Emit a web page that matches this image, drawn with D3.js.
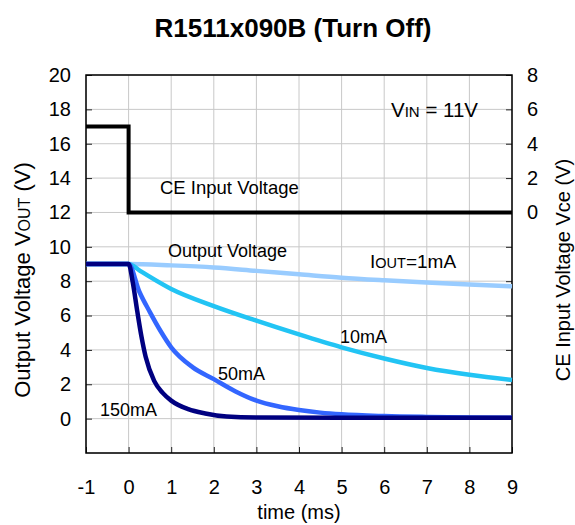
<!DOCTYPE html>
<html><head><meta charset="utf-8">
<script src="https://cdn.jsdelivr.net/npm/d3@7"></script>
<style>body{margin:0;background:#fff}svg text{font-family:"Liberation Sans",Arial,sans-serif}</style>
</head><body>
<svg id="c" width="575" height="525"></svg>
<script>
const xTicks = [-1,0,1,2,3,4,5,6,7,8,9];
const yTicks = [0,2,4,6,8,10,12,14,16,18,20];
const y2Ticks = [0,2,4,6,8];
// CE input voltage (right axis, V)
const ceT = [-1,0,0,9];
const ceV = [5,5,0,0];
// Output voltage series (left axis, V)
const t1 = [-1,0,1,2,3,4,5,6,7,8,9];
const v1 = [9,9,8.92,8.8,8.6,8.4,8.2,8.05,7.92,7.8,7.7];
const t10 = [-1,0,0.27,1,2,3,4,5,6,7,8,9];
const v10 = [9,9,8.6,7.55,6.55,5.7,4.9,4.15,3.5,2.95,2.55,2.25];
const t50 = [-1,0,0.25,0.5,0.75,1,1.5,2,2.5,3,3.5,4,4.5,5,6,7,8,9];
const v50 = [9,9,7.4,6.2,5.1,4.15,3.0,2.3,1.6,1.05,0.72,0.5,0.35,0.25,0.15,0.1,0.07,0.05];
const t150 = [-1,0,0.1,0.2,0.3,0.4,0.6,0.8,1.0,1.4,1.8,2.3,3,5,7,9];
const v150 = [9,9,7.9,6.3,4.8,3.6,2.2,1.5,1.05,0.55,0.3,0.12,0.06,0.05,0.05,0.05];

const svg = d3.select('#c');
const L=86, R=512, T=75, B=453;
const x = d3.scaleLinear().domain([-1,9]).range([L,R]);
const y = d3.scaleLinear().domain([-2,20]).range([B,T]);
const y2 = d3.scaleLinear().domain([-14,8]).range([B,T]);

// grid
const g = svg.append('g');
g.selectAll('.vg').data(xTicks).enter().append('line')
 .attr('x1',d=>x(d)).attr('x2',d=>x(d)).attr('y1',T).attr('y2',B)
 .attr('stroke','#c8c8c8').attr('stroke-width',1);
g.selectAll('.hg').data(yTicks.concat([-2])).enter().append('line')
 .attr('x1',L).attr('x2',R).attr('y1',d=>y(d)).attr('y2',d=>y(d))
 .attr('stroke','#c8c8c8').attr('stroke-width',1);

// axes
const fs = 20;
const hy = d => d<0 ? '-'+Math.abs(d) : String(d);
const ax = svg.append('g').attr('transform',`translate(0,${B})`)
 .call(d3.axisBottom(x).tickValues(xTicks).tickSizeInner(-6).tickSizeOuter(0).tickPadding(27).tickFormat(hy));
const ay = svg.append('g').attr('transform',`translate(${L},0)`)
 .call(d3.axisLeft(y).tickValues(yTicks).tickSizeInner(-6).tickSizeOuter(0).tickPadding(15));
const ay2t = svg.append('g').attr('transform',`translate(${R},0)`)
 .call(d3.axisRight(y).tickValues(yTicks).tickSizeInner(-6).tickSizeOuter(0).tickFormat(''));
const ay2 = svg.append('g').attr('transform',`translate(${R},0)`)
 .call(d3.axisRight(y2).tickValues(y2Ticks).tickSize(0).tickPadding(15));
[ax,ay,ay2t,ay2].forEach(a=>{
  a.select('.domain').remove();
  a.selectAll('line').attr('stroke','#222');
  a.selectAll('text').attr('font-size',fs).attr('fill','#000').attr('font-family','"Liberation Sans",Arial,sans-serif');
});
svg.append('rect').attr('x',L).attr('y',T).attr('width',R-L).attr('height',B-T)
 .attr('fill','none').attr('stroke','#000').attr('stroke-width',1.5);

// lines
const line = d3.line().x(d=>x(d[0])).y(d=>y(d[1])).curve(d3.curveMonotoneX);
const lineCE = d3.line().x(d=>x(d[0])).y(d=>y2(d[1]));
const series = [
  {t:t1,v:v1,c:'#99ccff'},
  {t:t10,v:v10,c:'#22c4f4'},
  {t:t50,v:v50,c:'#3366ff'},
  {t:t150,v:v150,c:'#000080'}
];
series.forEach(s=>{
  svg.append('path').datum(s.t.map((t,i)=>[t,s.v[i]])).attr('d',line)
   .attr('fill','none').attr('stroke',s.c).attr('stroke-width',4.5).attr('stroke-linejoin','round');
});
svg.append('path').datum(ceT.map((t,i)=>[t,ceV[i]])).attr('d',lineCE)
 .attr('fill','none').attr('stroke','#000').attr('stroke-width',4);

// annotations
function txt(xp,yp,s,size,anchor){return svg.append('text').attr('x',xp).attr('y',yp).attr('font-size',size).attr('text-anchor',anchor||'start').text(s);}
txt(160,194,'CE Input Voltage',18.5);
txt(168,257,'Output Voltage',18);
txt(340,343,'10mA',18);
txt(218,380,'50mA',18);
txt(100,416,'150mA',18);
const vin = svg.append('text').attr('x',391).attr('y',117).attr('font-size',20.5);
vin.append('tspan').text('V');
vin.append('tspan').attr('font-size',15).text('IN');
vin.append('tspan').text(' = 11V');
const iout = svg.append('text').attr('x',370).attr('y',268).attr('font-size',19);
iout.append('tspan').text('I');
iout.append('tspan').attr('font-size',14.5).text('OUT');
iout.append('tspan').text('=1mA');

// title & labels
svg.append('text').attr('x',293).attr('y',37).attr('text-anchor','middle')
 .attr('font-size',26).attr('font-weight','bold').text('R1511x090B (Turn Off)');
svg.append('text').attr('x',x(4)).attr('y',519).attr('text-anchor','middle').attr('font-size',20).text('time (ms)');
const yl = svg.append('text').attr('transform',`translate(30,280) rotate(-90)`).attr('text-anchor','middle').attr('font-size',22);
yl.append('tspan').text('Output Voltage V');
yl.append('tspan').attr('font-size',16).text('OUT');
yl.append('tspan').text(' (V)');
svg.append('text').attr('transform',`translate(570,270) rotate(-90)`).attr('text-anchor','middle').attr('font-size',20).text('CE Input Voltage Vce (V)');
</script>
</body></html>
